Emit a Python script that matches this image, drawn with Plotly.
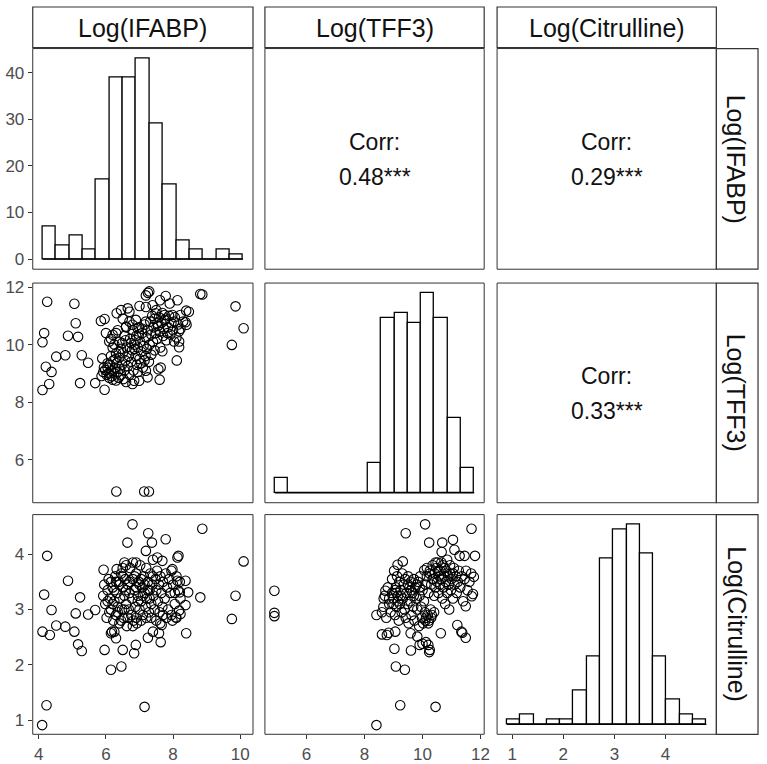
import plotly.graph_objects as go

# ---------------- data ----------------
var_labels = ["Log(IFABP)", "Log(TFF3)", "Log(Citrulline)"]
corr_title = "Corr:"
corr_ifabp_tff3 = "0.48***"
corr_ifabp_cit = "0.29***"
corr_tff3_cit = "0.33***"

# diagonal histograms (bin start, bin width, counts)
ifabp_bin_start, ifabp_bin_width = 4.1, 0.4
ifabp_counts = [7, 3, 5, 2, 17, 39, 39, 43, 29, 16, 4, 2, 0, 2, 1]
tff3_bin_start, tff3_bin_width = 4.9, 0.46
tff3_counts = [3, 0, 0, 0, 0, 0, 0, 6, 35, 36, 34, 40, 35, 15, 5]
cit_bin_start, cit_bin_width = 0.9, 0.26
cit_counts = [1, 2, 0, 1, 1, 7, 14, 34, 40, 41, 35, 14, 5, 2, 1]

# scatter: Log(TFF3) vs Log(IFABP)
p21_ifabp = [4.25, 4.16, 4.11, 4.21, 4.38, 4.11, 4.31, 4.52, 4.79, 4.87, 5.06, 5.10, 5.17, 5.28, 5.47, 5.23, 5.68, 5.96, 5.85, 5.96,
             6.32, 8.81, 8.87, 9.86, 10.10, 9.75, 6.31, 7.14, 7.28,
             7.29, 7.25, 7.19, 7.78, 8.13, 7.61, 7.39, 7.00, 7.90, 8.39, 8.47, 6.65, 6.70, 6.45, 7.19, 7.48, 7.75, 7.98, 8.22, 6.89,
             7.19, 7.53, 7.78, 8.03, 8.37, 8.40, 8.18, 7.83, 6.94, 6.79, 6.60, 6.30, 6.20, 6.00, 6.10, 6.25, 8.03, 8.18, 8.18, 7.68,
             8.11, 7.63, 7.56, 7.60, 7.19, 7.24, 6.99, 6.79, 6.84, 5.89, 5.94, 5.87,
             5.92, 5.98, 6.02, 6.05, 6.08, 6.10, 6.12, 6.15, 6.18, 6.20, 6.22, 6.25, 6.27, 6.30, 6.32, 6.35, 6.38, 6.40, 6.42, 6.45,
             6.48, 6.50, 6.52, 6.55, 6.58, 6.60, 6.62, 6.65, 6.68, 6.70,
             6.72, 6.75, 6.78, 6.80, 6.82, 6.85, 6.88, 6.90, 6.92, 6.95, 6.98, 7.00, 7.02, 7.05, 7.08, 7.10, 7.12, 7.15, 7.18, 7.20,
             7.22, 7.25, 7.28, 7.30, 6.40, 6.45, 6.55, 6.30, 6.20, 6.15, 6.35, 6.60, 6.70, 6.50,
             7.32, 7.35, 7.38, 7.40, 7.42, 7.45, 7.48, 7.50, 7.52, 7.55, 7.58, 7.60, 7.62, 7.65, 7.68, 7.70, 7.72, 7.75, 7.80, 7.85,
             7.88, 7.92, 7.95, 8.00, 8.05, 8.10, 8.15, 8.22, 8.30,
             6.05, 6.15, 6.28, 6.38, 6.48, 6.58, 6.88, 6.98, 7.08, 7.35, 7.45, 6.95, 7.05, 7.15, 6.85, 6.75]
p21_tff3 = [11.49, 10.40, 10.08, 9.23, 9.05, 8.42, 8.63, 9.58, 9.63, 10.31, 11.42, 10.74, 10.27, 9.63, 9.37, 8.66, 8.66, 8.43, 10.82, 10.89,
            11.09, 11.76, 11.74, 11.33, 10.57, 9.99, 4.89, 4.89, 4.89,
            11.85, 11.80, 11.71, 11.69, 11.54, 11.54, 11.37, 11.34, 11.43, 11.18, 11.14, 11.26, 11.14, 11.20, 11.31, 11.09, 11.03, 11.03, 11.03, 10.86,
            10.80, 10.74, 10.91, 10.80, 10.78, 10.69, 10.46, 10.40, 10.57, 10.69, 10.63, 10.40, 10.34, 10.40, 10.11, 10.00, 10.11, 10.11, 9.91, 9.77,
            9.45, 9.20, 9.14, 8.78, 9.09, 8.86, 8.74, 8.63, 8.74, 9.52, 9.20, 8.91,
            9.05, 9.12, 8.95, 9.20, 9.00, 8.85, 9.30, 9.10, 8.90, 8.78, 9.45, 9.00, 9.20, 8.75, 9.35, 9.05, 8.85, 9.55, 9.15, 8.95,
            9.30, 9.70, 8.80, 9.10, 9.45, 8.70, 9.90, 9.25, 9.60, 8.95,
            10.20, 9.40, 9.80, 10.50, 9.10, 10.00, 9.60, 10.30, 9.30, 9.90, 10.60, 9.50, 10.10, 9.75, 10.40, 9.20, 9.95, 10.70, 9.60, 10.25,
            9.85, 10.50, 9.40, 10.00, 10.10, 9.85, 10.30, 9.70, 9.90, 10.20, 10.50, 10.60, 10.80, 10.90,
            10.80, 10.35, 11.00, 10.10, 10.60, 10.90, 10.40, 11.20, 10.20, 10.65, 10.95, 10.45, 9.90, 10.75, 11.10, 10.30, 10.55, 10.85, 10.15, 10.60,
            11.00, 10.35, 10.75, 10.50, 10.95, 10.25, 10.70, 10.55, 10.80,
            9.35, 9.60, 9.50, 9.75, 10.05, 10.15, 10.15, 10.35, 10.55, 9.65, 9.80, 9.05, 9.35, 9.45, 9.85, 10.05]

# scatter: Log(Citrulline) vs Log(IFABP)
p31_ifabp = [4.10, 4.23, 4.25, 4.16, 4.38, 4.11, 4.33, 4.52, 4.79, 4.87, 5.06, 5.10, 5.17, 5.28, 5.23, 5.47, 5.68, 5.96, 5.93, 6.15,
             6.46, 6.79, 7.26, 6.64, 7.37, 7.78, 8.87, 10.10, 9.86, 9.75, 7.15, 8.81, 8.39, 8.37, 8.45, 8.13, 8.16, 7.98, 7.68, 7.53,
             7.19, 6.90, 6.80, 6.55, 6.32, 8.13, 8.37, 8.20, 8.22, 7.98, 8.08, 8.22, 8.18, 7.66, 7.63, 7.58, 7.40, 7.25, 6.89, 6.84,
             6.50, 6.30, 6.25, 6.15,
             5.92, 5.95, 5.98, 6.02, 6.05, 6.08, 6.10, 6.12, 6.15, 6.18, 6.20, 6.22, 6.25, 6.28, 6.30, 6.32, 6.35, 6.38, 6.40, 6.42,
             6.45, 6.48, 6.50, 6.52, 6.55, 6.58, 6.60, 6.62, 6.65, 6.68, 6.70, 6.72, 6.75, 6.78, 6.80, 6.82, 6.85, 6.88, 6.90, 6.92,
             6.95, 6.98, 7.00, 7.02, 7.05, 7.08, 7.10, 7.12, 7.15, 7.18, 7.20, 7.22, 7.25, 7.28, 7.30, 7.32, 7.35, 7.38, 7.40, 7.42,
             7.45, 7.48, 7.50, 7.52, 7.55, 7.58, 7.60, 7.62, 7.65, 7.68, 7.70, 7.75, 7.78, 7.82, 7.85, 7.88, 7.92, 7.95, 8.00, 8.05,
             8.10, 8.15, 8.20,
             6.90, 7.00, 7.10, 7.05, 6.95, 7.15, 7.25, 6.85, 6.60, 6.70, 7.30, 7.40, 6.40, 6.50, 6.30, 6.60, 6.50, 6.25, 6.15, 6.05,
             6.20, 6.35, 6.45, 6.55, 6.65, 6.80, 6.90, 7.05, 7.20, 7.35, 7.50, 7.62, 7.70, 7.80, 7.95, 8.10, 8.05]
p31_cit = [0.91, 1.27, 3.97, 3.27, 2.99, 2.60, 2.54, 2.71, 2.69, 3.52, 2.60, 2.93, 2.37, 2.25, 3.22, 2.91, 2.99, 2.27, 3.72, 1.91,
           1.97, 4.54, 4.38, 4.21, 4.21, 4.27, 4.46, 3.87, 3.25, 2.83, 1.24, 3.22, 2.57, 3.08, 3.31, 3.94, 3.97, 3.73, 3.88, 3.94,
           4.06, 3.85, 3.85, 3.85, 3.73, 3.52, 3.52, 3.31, 3.20, 2.80, 2.86, 2.92, 2.98, 2.72, 2.41, 2.57, 2.60, 2.49, 2.36, 2.21,
           2.27, 2.48, 2.60, 2.57,
           3.25, 3.45, 3.10, 2.85, 3.35, 3.55, 2.95, 3.20, 3.00, 2.60, 3.40, 2.80, 3.15, 3.60, 2.90, 3.30, 3.05, 3.50, 2.75, 3.20,
           3.65, 3.00, 3.40, 2.85, 3.25, 3.55, 3.10, 2.70, 3.45, 3.00, 3.30, 3.75, 2.90, 3.20, 3.55, 2.80, 3.35, 3.05, 3.65, 2.75,
           3.25, 3.50, 3.00, 3.80, 3.15, 3.40, 2.90, 3.60, 3.30, 3.05, 3.75, 3.20, 3.50, 2.95, 3.35, 3.65, 3.10, 3.45, 3.90, 3.25,
           3.00, 3.55, 3.35, 3.70, 3.15, 3.45, 2.95, 3.60, 3.30, 3.05, 3.50, 3.20, 3.65, 3.40, 3.00, 3.55, 3.30, 3.70, 3.45, 3.10,
           3.60, 3.35, 3.50,
           3.40, 3.45, 3.25, 3.55, 3.15, 3.45, 3.35, 3.60, 3.35, 3.50, 3.20, 3.60, 3.45, 3.60, 3.50, 3.80, 3.75, 3.35, 3.50, 3.15,
           3.10, 2.95, 2.80, 3.00, 2.85, 2.70, 2.85, 2.80, 2.85, 2.85, 2.80, 2.75, 2.90, 2.85, 2.90, 2.85, 3.30]

# scatter: Log(Citrulline) vs Log(TFF3)
p32_tff3 = [4.89, 4.89, 4.89, 8.41, 9.23, 10.45, 9.08, 9.39, 9.03, 9.60, 10.09, 9.42, 10.23, 10.68, 11.05, 11.69, 11.10, 10.66, 11.28, 11.45,
            11.81, 10.06, 9.32, 9.14, 11.77, 11.68, 11.70, 11.74, 11.49, 11.34, 11.37, 11.49, 11.20, 10.63, 10.23, 10.25, 10.20, 10.12, 10.00, 9.90,
            9.59, 9.82, 9.06, 8.60, 8.77, 8.83, 8.41, 8.60, 8.66, 8.72,
            8.65, 8.70, 8.75, 8.80, 8.85, 8.90, 8.95, 9.00, 9.02, 9.05, 9.08, 9.10, 9.12, 9.15, 9.18, 9.20, 9.22, 9.25, 9.28, 9.30,
            9.32, 9.35, 9.38, 9.40, 9.42, 9.45, 9.48, 9.50, 9.52, 9.55, 9.58, 9.60, 9.62, 9.65, 9.68, 9.70, 9.72, 9.75, 9.80, 9.82,
            9.85, 9.88, 9.90, 9.92, 9.95, 9.98, 10.00, 10.02, 10.05, 10.08, 10.10, 10.12, 10.15, 10.18, 10.20, 10.22, 10.25, 10.28, 10.30, 10.32,
            10.35, 10.38, 10.40, 10.42, 10.45, 10.48, 10.50, 10.52, 10.55, 10.58, 10.60, 10.62, 10.65, 10.68, 10.70, 10.72, 10.75, 10.78, 10.80, 10.82,
            10.85, 10.88, 10.90, 10.92, 10.95, 10.98, 11.00, 11.05, 11.08, 11.10, 11.15, 11.18, 11.22, 11.25, 11.30, 11.35, 11.40, 11.45, 11.50, 11.55,
            11.62,
            8.85, 8.95, 9.05, 9.15, 9.25, 9.50, 9.60, 9.70, 9.80, 9.90, 10.15, 10.25, 10.35, 10.45, 10.55, 10.65, 10.75, 10.85, 10.95, 11.05,
            10.10, 10.20, 10.30, 10.40, 9.00, 9.10]
p32_cit = [3.34, 2.94, 2.88, 0.91, 1.27, 1.24, 1.97, 1.91, 2.29, 2.26, 4.54, 4.38, 4.21, 4.21, 4.26, 4.46, 4.08, 4.04, 3.97, 3.97,
           3.97, 3.71, 3.87, 3.81, 3.59, 3.65, 3.24, 3.28, 3.06, 2.60, 2.58, 2.49, 2.72, 2.57, 2.23, 2.27, 2.36, 2.41, 2.38, 2.36,
           2.57, 2.51, 2.60, 2.55, 2.54, 2.58, 2.90, 2.95, 3.20, 3.34,
           3.05, 3.25, 2.85, 3.40, 3.10, 2.95, 3.55, 3.20, 3.70, 2.90, 3.40, 3.05, 3.60, 3.25, 2.80, 3.50, 3.10, 3.35, 2.95, 3.65,
           3.20, 3.45, 3.00, 3.55, 2.85, 3.30, 3.10, 3.60, 2.75, 3.40, 3.15, 3.50, 2.90, 3.30, 3.05, 3.55, 2.80, 3.40, 3.20, 3.00,
           3.50, 2.70, 3.25, 3.60, 3.05, 2.85, 3.35, 2.75, 3.15, 2.95, 3.45, 2.85, 3.60, 2.90, 3.30, 2.80, 3.70, 3.00, 3.45, 2.90,
           3.80, 3.55, 3.25, 3.65, 3.40, 3.75, 3.50, 3.85, 3.30, 3.60, 3.45, 3.70, 3.55, 3.20, 3.80, 3.40, 3.60, 3.10, 3.50, 3.70,
           3.30, 3.60, 3.45, 3.00, 3.65, 3.35, 3.55, 3.20, 3.75, 3.45, 3.60, 3.30, 3.50, 3.70, 3.40, 3.60, 3.15, 3.55, 3.70, 3.35,
           3.50,
           3.20, 3.30, 3.35, 3.15, 3.25, 3.45, 3.35, 3.25, 3.45, 3.40, 3.75, 3.65, 3.55, 3.85, 3.70, 3.85, 3.75, 3.90, 3.80, 3.65,
           2.80, 2.75, 2.85, 2.95, 3.10, 3.30]

# axis ranges (data units)
ifabp_range = [3.82, 10.38]
tff3_x_range = [4.563, 12.127]
tff3_y_range = [4.50, 12.14]
cit_range = [0.744, 4.716]
ifabp_ticks = [0, 10, 20, 30, 40]
ifabp_x_ticks = [4, 6, 8, 10]
tff3_ticks = [6, 8, 10, 12]
cit_ticks = [1, 2, 3, 4]

# ---------------- layout geometry ----------------
W, H = 767, 764
col_px = [(33, 255), (267, 488), (501, 722)]
row_px = [(44, 267), (281, 503), (515, 737)]
strip_top = (2, 43)
strip_right = (722, 764)

FONT = "Liberation Sans, Arial, Helvetica, sans-serif"
TICKFONT = dict(family=FONT, size=17, color="#4d4d4d")
BORDER = "#333333"
TEXTCOL = "#111111"


def px_x(p):
    return p / W


def px_y(p):
    return 1 - p / H


def aname(i, axis):
    return axis + ("" if i == 1 else str(i))


fig = go.Figure()
layout = dict(width=W, height=H, margin=dict(l=0, r=0, t=0, b=0),
              paper_bgcolor="white", plot_bgcolor="white", showlegend=False,
              bargap=0, font=dict(family=FONT))

idx = {}
k = 0
for r in range(3):
    for c in range(3):
        k += 1
        idx[(r, c)] = k
        layout[aname(k, "xaxis")] = dict(
            domain=[px_x(col_px[c][0]), px_x(col_px[c][1])], anchor=aname(k, "y"),
            showgrid=False, zeroline=False, showline=False, showticklabels=False,
            ticks="", fixedrange=True)
        layout[aname(k, "yaxis")] = dict(
            domain=[px_y(row_px[r][1]), px_y(row_px[r][0])], anchor=aname(k, "x"),
            showgrid=False, zeroline=False, showline=False, showticklabels=False,
            ticks="", fixedrange=True)


def set_ticks(ax, vals):
    ax.update(showticklabels=True, ticks="outside", ticklen=4, tickwidth=1,
              tickcolor=BORDER, tickvals=vals, ticktext=[str(v) for v in vals],
              tickfont=TICKFONT)


def hist(r, c, start, width, counts):
    k = idx[(r, c)]
    centers = [start + width * (i + 0.5) for i in range(len(counts))]
    end = start + width * len(counts)
    fig.add_trace(go.Bar(x=centers, y=counts, width=[width] * len(counts),
                         marker=dict(color="white", line=dict(color="black", width=1.3)),
                         xaxis=aname(k, "x"), yaxis=aname(k, "y"), hoverinfo="skip"))
    fig.add_trace(go.Scatter(x=[start, end], y=[0, 0], mode="lines",
                             line=dict(color="black", width=1.3),
                             xaxis=aname(k, "x"), yaxis=aname(k, "y"), hoverinfo="skip"))
    span = end - start
    layout[aname(k, "xaxis")]["range"] = [start - 0.05 * span, end + 0.05 * span]
    m = max(counts)
    layout[aname(k, "yaxis")]["range"] = [-0.05 * m, 1.05 * m]


def scatter(r, c, xs, ys, xr, yr):
    k = idx[(r, c)]
    fig.add_trace(go.Scatter(x=xs, y=ys, mode="markers",
                             marker=dict(symbol="circle-open", size=9.5, color="black",
                                         line=dict(width=1.1, color="black")),
                             xaxis=aname(k, "x"), yaxis=aname(k, "y"), hoverinfo="skip"))
    layout[aname(k, "xaxis")]["range"] = xr
    layout[aname(k, "yaxis")]["range"] = yr


hist(0, 0, ifabp_bin_start, ifabp_bin_width, ifabp_counts)
hist(1, 1, tff3_bin_start, tff3_bin_width, tff3_counts)
hist(2, 2, cit_bin_start, cit_bin_width, cit_counts)
scatter(1, 0, p21_ifabp, p21_tff3, ifabp_range, tff3_y_range)
scatter(2, 0, p31_ifabp, p31_cit, ifabp_range, cit_range)
scatter(2, 1, p32_tff3, p32_cit, tff3_x_range, cit_range)

# ticks
set_ticks(layout[aname(idx[(0, 0)], "yaxis")], ifabp_ticks)
set_ticks(layout[aname(idx[(1, 0)], "yaxis")], tff3_ticks)
set_ticks(layout[aname(idx[(2, 0)], "yaxis")], cit_ticks)
set_ticks(layout[aname(idx[(2, 0)], "xaxis")], ifabp_x_ticks)
set_ticks(layout[aname(idx[(2, 1)], "xaxis")], tff3_ticks)
set_ticks(layout[aname(idx[(2, 2)], "xaxis")], cit_ticks)

# empty axes for correlation panels
for (r, c) in [(0, 1), (0, 2), (1, 2)]:
    k = idx[(r, c)]
    layout[aname(k, "xaxis")]["range"] = [0, 1]
    layout[aname(k, "yaxis")]["range"] = [0, 1]

shapes = []
annotations = []
for r in range(3):
    for c in range(3):
        shapes.append(dict(type="rect", xref="paper", yref="paper",
                           x0=px_x(col_px[c][0]), x1=px_x(col_px[c][1]),
                           y0=px_y(row_px[r][1]), y1=px_y(row_px[r][0]),
                           line=dict(color=BORDER, width=1), fillcolor="rgba(0,0,0,0)",
                           layer="above"))
# strips
for c in range(3):
    shapes.append(dict(type="rect", xref="paper", yref="paper",
                       x0=px_x(col_px[c][0]), x1=px_x(col_px[c][1]),
                       y0=px_y(strip_top[1]), y1=px_y(strip_top[0]),
                       line=dict(color=BORDER, width=1.2), fillcolor="white"))
    annotations.append(dict(text=var_labels[c], xref="paper", yref="paper",
                            x=px_x((col_px[c][0] + col_px[c][1]) / 2),
                            y=px_y((strip_top[0] + strip_top[1]) / 2 + 1),
                            showarrow=False, xanchor="center", yanchor="middle",
                            font=dict(family=FONT, size=25, color=TEXTCOL)))
for r in range(3):
    shapes.append(dict(type="rect", xref="paper", yref="paper",
                       x0=px_x(strip_right[0]), x1=px_x(strip_right[1]),
                       y0=px_y(row_px[r][1]), y1=px_y(row_px[r][0]),
                       line=dict(color=BORDER, width=1.2), fillcolor="white"))
    annotations.append(dict(text=var_labels[r], xref="paper", yref="paper",
                            x=px_x((strip_right[0] + strip_right[1]) / 2 - 1),
                            y=px_y((row_px[r][0] + row_px[r][1]) / 2),
                            showarrow=False, xanchor="center", yanchor="middle",
                            textangle=90,
                            font=dict(family=FONT, size=25, color=TEXTCOL)))

# correlation text
for (r, c), val in [((0, 1), corr_ifabp_tff3), ((0, 2), corr_ifabp_cit), ((1, 2), corr_tff3_cit)]:
    cx = px_x((col_px[c][0] + col_px[c][1]) / 2)
    cy = (row_px[r][0] + row_px[r][1]) / 2
    annotations.append(dict(text=corr_title, xref="paper", yref="paper", x=cx, y=px_y(cy - 17),
                            showarrow=False, xanchor="center", yanchor="middle",
                            font=dict(family=FONT, size=23, color=TEXTCOL)))
    annotations.append(dict(text=val, xref="paper", yref="paper", x=cx, y=px_y(cy + 18),
                            showarrow=False, xanchor="center", yanchor="middle",
                            font=dict(family=FONT, size=23, color=TEXTCOL)))

layout["shapes"] = shapes
layout["annotations"] = annotations
fig.update_layout(**layout)
fig.write_html("out.html")
